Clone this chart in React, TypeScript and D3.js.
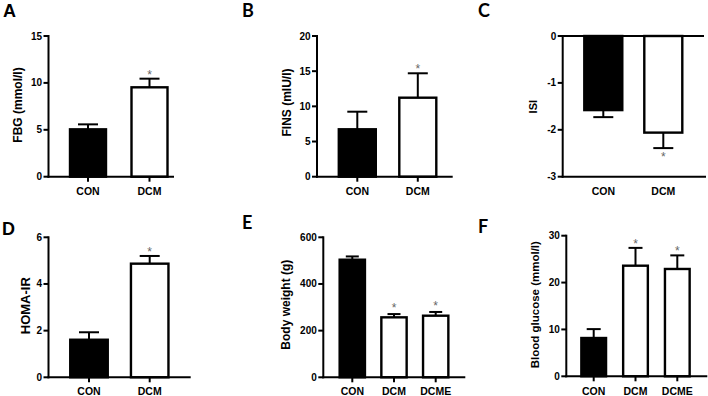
import React from "react";
import * as d3 from "d3";

// ---------- data ----------
const catsTwo = ["CON", "DCM"];
const catsThree = ["CON", "DCM", "DCME"];

const fbgMean = [5.05, 9.53];
const fbgSem = [0.53, 0.92];
const fbgStar = [false, true];

const finsMean = [6.74, 11.23];
const finsSem = [2.5, 3.47];
const finsStar = [false, true];

const isiMean = [-1.58, -2.06];
const isiSem = [0.15, 0.33];
const isiStar = [false, true];

const homaMean = [1.61, 4.87];
const homaSem = [0.32, 0.33];
const homaStar = [false, true];

const bwMean = [504, 257, 264];
const bwSem = [14, 14, 16];
const bwStar = [false, true, true];

const bgMean = [8.17, 23.6, 22.9];
const bgSem = [1.9, 3.8, 2.9];
const bgStar = [false, true, true];

const ticksFBG = [0, 5, 10, 15];
const ticksFINS = [0, 5, 10, 15, 20];
const ticksISI = [0, -1, -2, -3];
const ticksHOMA = [0, 2, 4, 6];
const ticksBW = [0, 200, 400, 600];
const ticksBG = [0, 10, 20, 30];

// ---------- layout ----------
type Panel = {
  letter: string;
  letterX: number;
  letterY: number;
  letterFont: string;
  yLabel: string;
  yLabelX: number;
  yLabelY: number;
  yLabelSize: number;
  cats: string[];
  mean: number[];
  sem: number[];
  star: boolean[];
  ticks: number[];
  domain: [number, number];
  axisX: number;
  yTop: number;
  yBottom: number;
  xEnd: number;
  firstC: number;
  lastC: number;
  barW: number;
  capW: number;
  labelY: number;
  negative?: boolean;
  starGap: number;
};

const ARIAL = "'Liberation Sans', Arial, sans-serif";
const CAL = "Lato, 'Open Sans', sans-serif";

const panels: Panel[] = [
  {
    letter: "A", letterX: 3, letterY: 17, letterFont: ARIAL,
    yLabel: "FBG (mmol/l)", yLabelX: 18, yLabelY: 105, yLabelSize: 12,
    cats: catsTwo, mean: fbgMean, sem: fbgSem, star: fbgStar,
    ticks: ticksFBG, domain: [0, 15],
    axisX: 48.5, yTop: 36, yBottom: 176.7, xEnd: 174,
    firstC: 88, lastC: 149.5, barW: 38, capW: 20, labelY: 194.5, starGap: 7,
  },
  {
    letter: "B", letterX: 242, letterY: 17, letterFont: CAL,
    yLabel: "FINS (mIU/l)", yLabelX: 287, yLabelY: 102.5, yLabelSize: 12,
    cats: catsTwo, mean: finsMean, sem: finsSem, star: finsStar,
    ticks: ticksFINS, domain: [0, 20],
    axisX: 317, yTop: 36, yBottom: 176.7, xEnd: 452.7,
    firstC: 357.3, lastC: 417.8, barW: 39, capW: 20, labelY: 194.5, starGap: 7,
  },
  {
    letter: "C", letterX: 478, letterY: 17, letterFont: CAL,
    yLabel: "ISI", yLabelX: 533, yLabelY: 106.7, yLabelSize: 11,
    cats: catsTwo, mean: isiMean, sem: isiSem, star: isiStar,
    ticks: ticksISI, domain: [-3, 0],
    axisX: 562.7, yTop: 36, yBottom: 176.7, xEnd: 704,
    firstC: 603.3, lastC: 663.3, barW: 40, capW: 20, labelY: 194.5,
    negative: true, starGap: 6,
  },
  {
    letter: "D", letterX: 2, letterY: 235, letterFont: ARIAL,
    yLabel: "HOMA-IR", yLabelX: 25, yLabelY: 305.7, yLabelSize: 13,
    cats: catsTwo, mean: homaMean, sem: homaSem, star: homaStar,
    ticks: ticksHOMA, domain: [0, 6],
    axisX: 48.5, yTop: 237.3, yBottom: 377.3, xEnd: 190.7,
    firstC: 89, lastC: 149.7, barW: 39.5, capW: 20, labelY: 395, starGap: 7,
  },
  {
    letter: "E", letterX: 242, letterY: 229, letterFont: CAL,
    yLabel: "Body weight (g)", yLabelX: 286, yLabelY: 304.7, yLabelSize: 12,
    cats: catsThree, mean: bwMean, sem: bwSem, star: bwStar,
    ticks: ticksBW, domain: [0, 600],
    axisX: 323.3, yTop: 237.3, yBottom: 377.3, xEnd: 465.3,
    firstC: 352.3, lastC: 435.7, barW: 27.3, capW: 13, labelY: 395, starGap: 9,
  },
  {
    letter: "F", letterX: 478, letterY: 233, letterFont: CAL,
    yLabel: "Blood glucose (mmol/l)", yLabelX: 535.3, yLabelY: 304.7, yLabelSize: 11.5,
    cats: catsThree, mean: bgMean, sem: bgSem, star: bgStar,
    ticks: ticksBG, domain: [0, 30],
    axisX: 566.3, yTop: 235.7, yBottom: 376.3, xEnd: 707.3,
    firstC: 593.7, lastC: 677.3, barW: 26.7, capW: 14, labelY: 395, starGap: 7,
  },
];

function PanelView({ p }: { p: Panel }) {
  const y = d3
    .scaleLinear()
    .domain(p.domain)
    .range([p.yBottom, p.yTop]);
  const x = d3.scalePoint<string>().domain(p.cats).range([p.firstC, p.lastC]);
  const base = y(0);
  const sw = 2;
  return (
    <g>
      <text
        x={p.letterX}
        y={p.letterY}
        fontFamily={p.letterFont}
        fontWeight="bold"
        fontSize={18}
        fill="#000"
      >
        {p.letter}
      </text>
      <text
        transform={`translate(${p.yLabelX},${p.yLabelY}) rotate(-90)`}
        textAnchor="middle"
        dominantBaseline="central"
        fontFamily={ARIAL}
        fontWeight="bold"
        fontSize={p.yLabelSize}
      >
        {p.yLabel}
      </text>
      {/* bars */}
      {p.cats.map((c, i) => {
        const cx = x(c) as number;
        const m = p.mean[i];
        const top = Math.min(y(m), base);
        const h = Math.abs(y(m) - base);
        const errEnd = p.negative ? y(m - p.sem[i]) : y(m + p.sem[i]);
        const filled = i === 0;
        return (
          <g key={c}>
            <line
              x1={cx}
              x2={cx}
              y1={y(m)}
              y2={errEnd}
              stroke="#000"
              strokeWidth={sw}
            />
            <line
              x1={cx - p.capW / 2}
              x2={cx + p.capW / 2}
              y1={errEnd}
              y2={errEnd}
              stroke="#000"
              strokeWidth={sw}
            />
            <rect
              x={cx - p.barW / 2 + 1}
              y={top}
              width={p.barW - 2}
              height={h}
              fill={filled ? "#000" : "#fff"}
              stroke="#000"
              strokeWidth={2.4}
            />
            {p.star[i] && (
              <text
                x={cx}
                y={p.negative ? errEnd + p.starGap : errEnd - p.starGap}
                textAnchor="middle"
                dominantBaseline="central"
                fontFamily={ARIAL}
                fontSize={12}
                fill="#666"
                dy="0.25em"
              >
                *
              </text>
            )}
            {!p.negative && (
              <line
                x1={cx}
                x2={cx}
                y1={p.yBottom}
                y2={p.yBottom + 5}
                stroke="#000"
                strokeWidth={sw}
              />
            )}
            <text
              x={cx}
              y={p.labelY}
              textAnchor="middle"
              fontFamily={ARIAL}
              fontWeight="bold"
              fontSize={10.5}
            >
              {c}
            </text>
          </g>
        );
      })}
      {/* y axis */}
      <line
        x1={p.axisX}
        x2={p.axisX}
        y1={p.yTop - 1}
        y2={p.yBottom + 1}
        stroke="#000"
        strokeWidth={sw}
      />
      {p.ticks.map((t) => (
        <g key={t}>
          <line
            x1={p.axisX - 5}
            x2={p.axisX}
            y1={y(t)}
            y2={y(t)}
            stroke="#000"
            strokeWidth={sw}
          />
          <text
            x={p.axisX - 6.5}
            y={y(t)}
            textAnchor="end"
            dominantBaseline="central"
            fontFamily={ARIAL}
            fontWeight="bold"
            fontSize={10}
          >
            {t}
          </text>
        </g>
      ))}
      {/* x axis */}
      <line
        x1={p.axisX - 1}
        x2={p.xEnd}
        y1={base}
        y2={base}
        stroke="#000"
        strokeWidth={sw}
      />
      {p.negative && (
        <line
          x1={p.axisX - 1}
          x2={p.xEnd + 2}
          y1={p.yBottom}
          y2={p.yBottom}
          stroke="#000"
          strokeWidth={sw}
        />
      )}
    </g>
  );
}

export default function App() {
  return (
    <svg
      width={708}
      height={396}
      style={{ position: "absolute", left: 0, top: 0, display: "block", background: "#fff" }}
    >
      <rect x={0} y={0} width={708} height={396} fill="#fff" />
      {panels.map((p) => (
        <PanelView key={p.letter} p={p} />
      ))}
    </svg>
  );
}
